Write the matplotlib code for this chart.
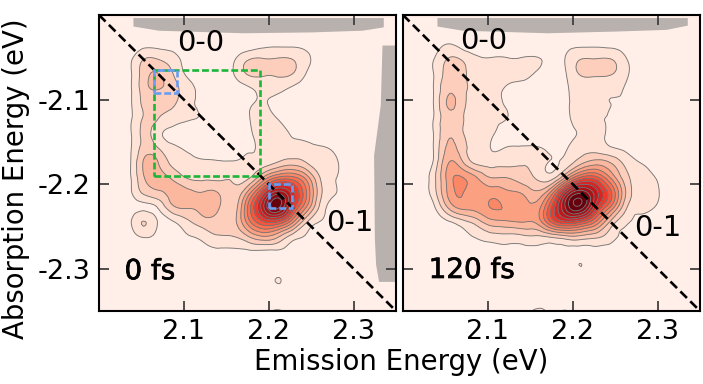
import matplotlib
matplotlib.use('Agg')
import matplotlib.pyplot as plt
import matplotlib.patheffects as pe
import matplotlib.tri as mtri
import numpy as np
from matplotlib.patches import Rectangle

plt.rcParams['axes.unicode_minus'] = False

# grid nodes of the two maps (eV)
emission = [2.0 + 0.0175 * i for i in range(21)]
absorption = [-2.0 - 0.0175 * i for i in range(21)]

# map heights, in units of one contour step
map_0fs = [
    [.3,.3,.3,.3,.3,.3,.3,.3,.3,.3,.3,.3,.3,.3,.3,.3,.3,.3,.3,.3,.3],
    [.3,.3,.3,.3,.3,.3,.3,.3,.3,.3,.3,.3,.3,.3,.3,.3,.3,.3,.3,.3,.3],
    [.3,.3,.4,.7,.7,.6,.3,.3,.3,.3,.4,.7,.8,.8,.7,.4,.3,.3,.3,.3,.3],
    [.3,.3,.7,2.0,2.0,1.4,.6,.4,.4,.8,1.9,2.1,2.1,2.02,1.2,.6,.3,.3,.3,.3,.3],
    [.3,.3,.7,2.5,3.03,2.0,.8,.4,.4,.9,2.05,2.15,2.15,2.0,.9,.4,.3,.3,.3,.3,.3],
    [.3,.3,.7,2.5,3.03,2.4,1.4,.7,.4,.4,.8,1.3,1.3,.8,.4,.3,.3,.3,.3,.3,.3],
    [.3,.3,.7,2.2,2.3,2.1,1.3,.8,.4,.4,.8,1.1,.7,.4,.3,.3,.3,.3,.3,.3,.3],
    [.3,.3,.7,2.1,2.0,1.5,1.1,.9,.4,.4,.9,1.3,1.0,.6,.3,.3,.3,.3,.3,.3,.3],
    [.3,.3,.7,2.2,1.3,.7,.4,.4,.4,.4,.8,1.3,1.3,.9,.5,.3,.3,.3,.3,.3,.3],
    [.3,.3,.7,2.4,2.0,1.2,.8,.5,.5,.7,.85,1.15,1.3,1.3,1.3,1.1,.8,.4,.3,.3,.3],
    [.3,.3,.7,3.1,3.0,1.7,1.2,1.15,1.1,1.1,1.2,1.5,2.1,2.6,2.0,1.4,1.05,.5,.3,.3,.3],
    [.3,.3,.7,2.9,3.4,2.8,1.9,1.8,1.8,1.9,1.8,4.0,6.2,6.4,4.5,1.76,1.0,.5,.3,.3,.3],
    [.3,.3,.7,2.2,2.8,3.4,3.3,3.05,3.0,2.1,4.2,8.3,11.5,9.6,5.9,2.05,1.0,.5,.3,.3,.3],
    [.3,.3,.4,.8,1.1,2.8,3.1,3.4,3.2,2.3,6.0,10.5,13.3,9.0,4.8,1.5,.7,.3,.3,.3,.3],
    [.3,.3,.7,2.05,.9,.9,1.8,2.5,2.4,2.5,5.3,7.7,7.9,5.3,2.0,.9,.4,.3,.3,.3,.3],
    [.3,.3,.5,1.05,.7,.4,.9,1.3,1.9,1.95,2.8,3.8,3.15,1.5,.9,.4,.3,.3,.3,.3,.3],
    [.3,.3,.3,.5,.4,.3,.4,.6,.7,.7,.8,.8,.8,.7,.5,.3,.3,.3,.3,.3,.3],
    [.3,.3,.3,.3,.3,.3,.3,.3,.3,.3,.3,.3,.3,.3,.3,.3,.3,.3,.3,.3,.3],
    [.3,.3,.3,.3,.3,.3,.3,.3,.3,.3,.3,.3,1.05,.3,.3,.3,.3,.3,.3,.3,.3],
    [.3,.3,.3,.3,.3,.3,.3,.3,.3,.3,.3,.3,.3,.3,.3,.3,.3,.3,.3,.3,.3],
    [.3,.3,.3,.3,.3,.3,.3,.3,.3,.3,.3,.3,1.2,.3,.3,.3,.3,.3,.3,.3,.3],
]

map_120fs = [
    [.3,.3,.3,.3,.3,.3,.3,.3,.3,.3,.3,.3,.3,.3,.3,.3,.3,.3,.3,.3,.3],
    [.3,.3,.3,.3,.3,.3,.3,.3,.3,.3,.3,.3,.3,.3,.3,.3,.3,.3,.3,.3,.3],
    [.3,.3,.4,1.05,.6,.4,.3,.3,.3,.3,.4,.7,.8,.8,.7,.5,.3,.3,.3,.3,.3],
    [.3,.3,.9,2.05,1.9,1.2,1.1,1.1,1.1,1.1,.7,1.1,2.02,2.05,2.03,1.1,.4,.3,.3,.3,.3],
    [.3,.3,.9,2.4,2.2,1.6,1.3,1.3,1.2,.9,.4,1.0,2.1,2.15,2.05,1.2,.5,.3,.3,.3,.3],
    [.3,.3,.9,2.8,2.3,1.7,1.3,.9,.7,.7,.4,.9,1.2,1.2,1.2,.9,.4,.3,.3,.3,.3],
    [.3,.3,.9,3.1,2.3,1.6,1.2,.9,.4,.4,.4,.9,1.1,1.1,1.0,.8,.4,.3,.3,.3,.3],
    [.3,.3,.9,2.7,2.1,1.5,1.2,1.0,.6,.4,.4,.8,1.3,1.1,.9,.4,.3,.3,.3,.3,.3],
    [.3,.3,.9,2.8,2.1,1.5,1.1,.7,.8,.5,.4,.7,1.1,1.2,.8,.4,.3,.3,.3,.3,.3],
    [.3,.3,.9,3.2,2.4,1.6,.95,1.05,1.1,1.1,.8,.95,1.5,1.6,1.1,.8,.4,.3,.3,.3,.3],
    [.3,.3,1.0,3.9,3.2,1.8,1.6,1.7,1.9,1.6,.9,1.4,2.8,3.6,3.0,1.7,1.0,.6,.3,.3,.3],
    [.3,.4,1.5,4.3,5.05,4.0,3.0,3.0,2.5,1.9,1.6,4.4,7.3,7.4,4.9,2.4,1.4,1.0,.4,.3,.3],
    [.3,.5,1.4,4.1,5.05,4.4,4.6,4.2,3.9,3.2,5.4,10.5,12.7,10.4,7.2,3.0,1.5,1.2,.4,.3,.3],
    [.3,.3,.7,3.0,4.3,4.4,5.05,4.9,4.5,4.4,8.0,12.3,13.5,9.3,5.75,2.2,1.3,.95,.4,.3,.3],
    [.3,.3,.4,.8,1.6,2.5,3.6,3.8,4.0,4.2,7.1,8.6,7.9,5.75,2.7,1.2,.6,.4,.3,.3,.3],
    [.3,.3,.3,.4,.7,1.1,1.5,1.6,1.7,1.8,2.1,2.6,2.6,2.2,1.4,.6,.3,.3,.3,.3,.3],
    [.3,.3,.3,.3,.3,.4,.6,.7,.7,.7,.7,.7,.7,.7,.5,.3,.3,.3,.3,.3,.3],
    [.3,.3,.3,.3,.3,.3,.3,.3,.3,.3,.3,.3,1.0,.3,.3,.3,.3,.3,.3,.3,.3],
    [.3,.3,.3,.3,.3,.3,.3,.3,.3,.3,.3,.3,.3,.3,.3,.3,.3,.3,.3,.3,.3],
    [.3,.3,.3,.3,.3,.3,.3,.3,.3,.3,.3,.3,.3,.3,.3,.3,.3,.3,.3,.3,.3],
    [.3,.3,.3,.3,.3,.3,.3,.3,.3,1.2,.8,1.05,.3,.3,.3,.3,.3,.3,.3,.3,.3],
]

# grey areas where the map has no data
top_x_0fs = [2.04, 2.07, 2.17, 2.25, 2.31, 2.335]
top_edge_0fs = [-2.013, -2.018, -2.021, -2.020, -2.018, -2.014]
right_y_0fs = [-2.0355, -2.106, -2.1655, -2.264, -2.295, -2.315]
right_edge_0fs = [2.3335, 2.3315, 2.3236, 2.3245, 2.326, 2.3295]
top_x_120fs = [2.04, 2.07, 2.17, 2.25, 2.31, 2.335]
top_edge_120fs = [-2.013, -2.018, -2.021, -2.019, -2.017, -2.012]

green_box = [2.065, 2.19, -2.065, -2.19]
blue_boxes = [[2.065, 2.092, -2.065, -2.092], [2.2, 2.228, -2.2, -2.228]]

BG_GREY = '#b8b1ad'
LINE_GREY = '#767676'
levels = list(range(0, 16))


def draw_map(ax, z, top_x, top_edge):
    x, y = np.meshgrid(emission, absorption)
    z = np.array(z).ravel()
    tri = mtri.Triangulation(x.ravel(), y.ravel())
    # smooth the contours with the library's refiner
    interp = mtri.CubicTriInterpolator(tri, z, kind='min_E')
    tri2, z2 = mtri.UniformTriRefiner(tri).refine_field(z, triinterpolator=interp, subdiv=3)
    ax.set_facecolor(plt.cm.Reds(0.03))
    ax.tricontourf(tri2, z2, levels=levels, cmap='Reds', vmin=0, vmax=13.5)
    ax.tricontour(tri2, z2, levels=levels[1:], colors=LINE_GREY, linewidths=0.65)
    ax.fill_between(top_x, top_edge, -2.003, color=BG_GREY, lw=0)
    ax.plot([2.0, 2.35], [-2.0, -2.35], color='black', ls=(0, (3.5, 1.8)), lw=1.9)
    ax.set_xlim(2.0, 2.35)
    ax.set_ylim(-2.35, -2.0)
    ax.set_xticks([2.1, 2.2, 2.3])
    ax.set_yticks([-2.1, -2.2, -2.3])
    ax.tick_params(direction='in', length=7, width=1.3, color='#404040',
                   top=True, right=True, labelsize=19.5, pad=6)
    for s in ax.spines.values():
        s.set_linewidth(1.5)


def box(ax, b, color, lw):
    ax.add_patch(Rectangle((b[0], b[3]), b[1] - b[0], b[2] - b[3], fill=False,
                           ec=color, lw=lw, ls=(0, (2.6, 1.1)), zorder=5))


fig = plt.figure(figsize=(7.03, 3.84), dpi=100)
ax1 = fig.add_axes([99 / 703, 1 - 311 / 384, 297 / 703, 296 / 384])
ax2 = fig.add_axes([403 / 703, 1 - 311 / 384, 297 / 703, 296 / 384])

draw_map(ax1, map_0fs, top_x_0fs, top_edge_0fs)
draw_map(ax2, map_120fs, top_x_120fs, top_edge_120fs)
ax1.fill_betweenx(right_y_0fs, right_edge_0fs, 2.35, color=BG_GREY, lw=0)
ax2.set_yticklabels([])

box(ax1, green_box, '#1db53a', 1.9)
for b in blue_boxes:
    box(ax1, b, '#6a9cf2', 1.9)

heavy = [pe.withStroke(linewidth=0.5, foreground='black')]
ax1.text(2.12, -2.0335, '0-0', fontsize=21, ha='center', va='center')
ax1.text(2.296, -2.246, '0-1', fontsize=21, ha='center', va='center')
ax1.text(2.06, -2.303, '0 fs', fontsize=20, ha='center', va='center', path_effects=heavy)
ax2.text(2.095, -2.031, '0-0', fontsize=21, ha='center', va='center')
ax2.text(2.30, -2.252, '0-1', fontsize=21, ha='center', va='center')
ax2.text(2.081, -2.3015, '120 fs', fontsize=20, ha='center', va='center', path_effects=heavy)

fig.text(16 / 703, 1 - 179 / 384, 'Absorption Energy (eV)', fontsize=19.8, rotation=90, ha='center', va='center')
fig.text(401.5 / 703, 1 - 362 / 384, 'Emission Energy (eV)', fontsize=19.8, ha='center', va='center')

plt.savefig('out.png', dpi=100)
